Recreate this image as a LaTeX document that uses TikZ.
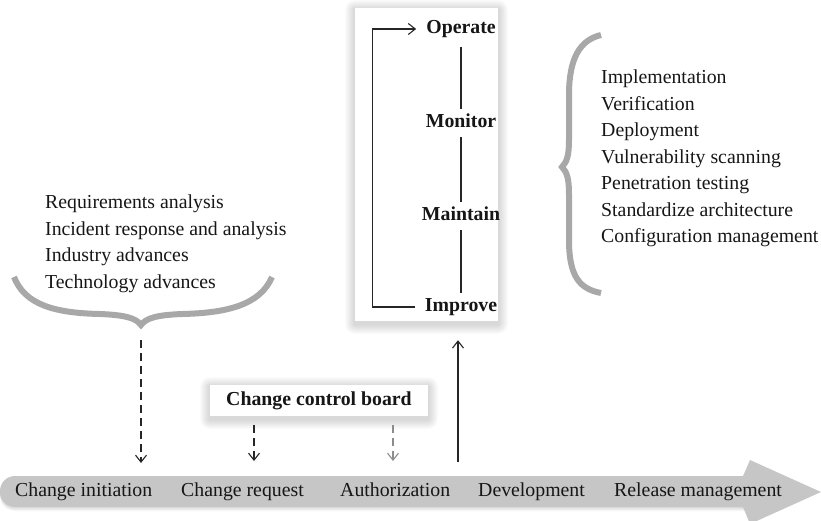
\documentclass[tikz,border=0pt]{standalone}
\usepackage{fontspec}
\setmainfont{Liberation Serif}
\usetikzlibrary{arrows.meta,calc}
\definecolor{txt}{HTML}{161616}
\definecolor{bracegray}{HTML}{A8A8A8}
\definecolor{bargray}{HTML}{C6C6C6}
\definecolor{linedark}{HTML}{262626}
\definecolor{dashlight}{HTML}{8C8C8C}
\newcommand\mysoftshadow[4]{%
  \foreach \k in {1,...,10}{%
    \fill[black,opacity=0.014,rounded corners=\k pt] (#1-\k,#2-\k+2) rectangle (#3+\k,#4+\k+3);}}
\begin{document}
\begin{tikzpicture}[x=1pt,y=-1pt,
  font=\fontsize{19.8}{26.5}\selectfont, text=txt,
  lbl/.style={inner sep=0pt, text height=13.5pt, text depth=4pt},
  stage/.style={inner xsep=10pt, inner ysep=5.5pt, text height=13.5pt, text depth=4pt,
    font=\fontsize{19.8}{26.5}\selectfont\bfseries},
  link/.style={draw=linedark, line width=1.2pt},
  tip/.style={-{Straight Barb[length=7pt,width=11pt,line width=1.1pt]}},
  dasharrow/.style={draw=linedark, line width=1.1pt, dash pattern=on 8pt off 5pt,
    -{Straight Barb[length=7pt,width=11pt,line width=1.1pt]}},
  bracestyle/.style={draw=bracegray, line width=6pt, line cap=butt},
  list/.style={anchor=north west, align=left, inner sep=0pt}]
\useasboundingbox (0,0) rectangle (821,520);
\clip (0,0) rectangle (821,520);

% ---- big arrow bar ----
\foreach \s in {1,2,3,4}{\fill[black,opacity=0.035,rounded corners=15pt] (0,476+\s) rectangle (760,507+\s);}
\fill[bargray, rounded corners=15pt] (0,476) rectangle (760,507);
\fill[bargray] (743,476) -- (750,460) -- (821,492) -- (750,524) -- (743,507) -- cycle;

\node[lbl, anchor=west] (ci) at (15,492) {Change initiation};
\node[lbl, anchor=west] (cr) at (181,492) {Change request};
\node[lbl, anchor=west] (au) at (340,492) {Authorization};
\node[lbl, anchor=west] (de) at (478,492) {Development};
\node[lbl, anchor=west] (rm) at (614,492) {Release management};

% ---- life cycle box ----
\mysoftshadow{355}{8}{498}{321}
\node[fill=white, minimum width=143pt, minimum height=313pt, inner sep=0pt] (lifebox) at (426.5,164.5) {};
\node[stage] (op) at (461,29) {Operate};
\node[stage] (mon) at (461,123) {Monitor};
\node[stage] (mai) at (461,216) {Maintain};
\node[stage] (imp) at (461,307) {Improve};
\draw[link, shorten <=4pt] (op) -- (mon);
\draw[link] (mon) -- (mai);
\draw[link] (mai) -- (imp);
\draw[link, tip] (imp.west) -- ++(-42,0) |- (op.west);

% ---- change control board ----
\mysoftshadow{210}{385}{428}{416}
\node[fill=white, minimum width=218pt, minimum height=31pt, inner sep=0pt,
  font=\fontsize{19.8}{26.5}\selectfont\bfseries] (ccb) at (319,400.5) {Change control board};

% ---- arrow end points on the bar ----
\coordinate (t1) at (141,463);
\coordinate (t2) at (254,461);
\coordinate (t3) at (393,461);
\coordinate (dv) at (458,462);
\coordinate (btip) at (141,326);

\draw[dasharrow, shorten <=14pt] (btip) -- (t1);
\draw[dasharrow, shorten <=9pt] (ccb.south -| t2) -- (t2);
\draw[dasharrow, draw=dashlight, shorten <=9pt] (ccb.south -| t3) -- (t3);
\draw[link, line width=1.6pt, tip, shorten >=19pt] (dv) -- (dv |- lifebox.south);

% ---- left brace and list ----
\draw[bracestyle] (14,277) .. controls (25,305) and (55,313) .. (100,314)
  .. controls (125,315) and (136,318) .. (141,325)
  .. controls (146,318) and (157,315) .. (182,314)
  .. controls (227,313) and (260,305) .. (272,277);
\node[list] (reqs) at (45,195) {Requirements analysis\\Incident response and analysis\\Industry advances\\Technology advances};

% ---- right brace and list ----
\draw[bracestyle] (601,35) .. controls (580,40) and (569,58) .. (569,95) -- (569,140)
  .. controls (569,155) and (567,162) .. (562,167)
  .. controls (567,172) and (569,179) .. (569,194) -- (569,240)
  .. controls (569,277) and (580,289) .. (601,293);
\node[list] (acts) at (601,70) {Implementation\\Verification\\Deployment\\Vulnerability scanning\\Penetration testing\\Standardize architecture\\Configuration management};
\end{tikzpicture}
\end{document}
